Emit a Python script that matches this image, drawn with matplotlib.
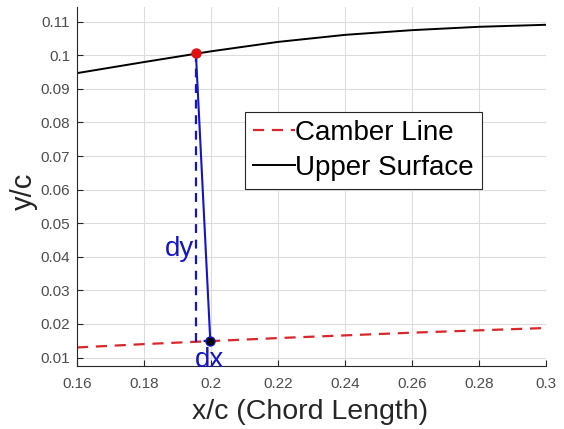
import numpy as np
import matplotlib
matplotlib.use("Agg")
import matplotlib.pyplot as plt

plt.rcParams['font.family'] = ['Liberation Sans', 'DejaVu Sans']

# data
x_upper = [0.16, 0.18, 0.20, 0.22, 0.24, 0.26, 0.28, 0.30]
y_upper = [0.0947, 0.0980, 0.1012, 0.1040, 0.1061, 0.1075, 0.1085, 0.1091]
x_camber = [0.16, 0.18, 0.20, 0.22, 0.24, 0.26, 0.28, 0.30]
y_camber = [0.0130, 0.0140, 0.0149, 0.0158, 0.0166, 0.0174, 0.0181, 0.0188]

p_upper = (0.1955, 0.1006)   # point on upper surface
p_camber = (0.1998, 0.0149)  # point on camber line

xticks = [0.16, 0.18, 0.2, 0.22, 0.24, 0.26, 0.28, 0.3]
yticks = [0.01, 0.02, 0.03, 0.04, 0.05, 0.06, 0.07, 0.08, 0.09, 0.1, 0.11]

blue = '#1414c8'
red = '#d8262b'

fig = plt.figure(figsize=(5.64, 4.29), dpi=100)
ax = fig.add_axes([0.1365, 0.147, 0.8315, 0.8367])

ax.plot(x_camber, y_camber, '--', color=red, lw=1.6, dashes=(5, 3.5), label='Camber Line')
ax.plot(x_upper, y_upper, '-', color='black', lw=1.4, label='Upper Surface')

# dy / dx construction
ax.plot([p_upper[0], p_upper[0], p_camber[0]], [p_upper[1], p_camber[1], p_camber[1]],
        '--', color=blue, lw=1.6, dashes=(4, 3))
ax.plot([p_upper[0], p_camber[0]], [p_upper[1], p_camber[1]], '-', color=blue, lw=1.5)
ax.plot(*p_upper, 'o', color='#e01010', ms=6.5)
ax.plot(*p_camber, 'o', color='black', mec=blue, ms=6.5)

ax.text(0.1949, 0.0423, 'dy', color=blue, fontsize=20, ha='right', va='center')
ax.text(0.1997, 0.0073, 'dx', color=blue, fontsize=20, ha='center', va='baseline')

ax.set_xlim(0.16, 0.3)
ax.set_ylim(0.0075, 0.1144)
ax.set_xticks(xticks)
ax.set_xticklabels(['0.16', '0.18', '0.2', '0.22', '0.24', '0.26', '0.28', '0.3'])
ax.set_yticks(yticks)
ax.set_yticklabels(['0.01', '0.02', '0.03', '0.04', '0.05', '0.06', '0.07', '0.08', '0.09', '0.1', '0.11'])
ax.tick_params(direction='in', labelsize=11, labelcolor='#4d4d4d', color='#262626', length=4)
ax.tick_params(axis='x', pad=8)
ax.tick_params(axis='y', pad=5)
ax.grid(True, color='#dcdcdc', lw=0.8)
ax.set_axisbelow(True)
for s in ['top', 'right']:
    ax.spines[s].set_visible(False)
for s in ['left', 'bottom']:
    ax.spines[s].set_color('#262626')

ax.set_xlabel('x/c (Chord Length)', fontsize=20.5, color='#262626')
ax.xaxis.set_label_coords(0.498, -0.092)
ax.set_ylabel('y/c', fontsize=21, color='#262626')
ax.yaxis.set_label_coords(-0.113, 0.487)
ax.yaxis.label.set_verticalalignment('center')

leg = ax.legend(loc='upper left', bbox_to_anchor=(0.358, 0.708), fontsize=20,
                handlelength=1.5, handletextpad=0.02, borderpad=0.3,
                labelspacing=0.32, borderaxespad=0, fancybox=False, framealpha=1)
leg.get_frame().set_edgecolor('#262626')
leg.get_frame().set_linewidth(0.8)

fig.savefig('out.png', dpi=100)
